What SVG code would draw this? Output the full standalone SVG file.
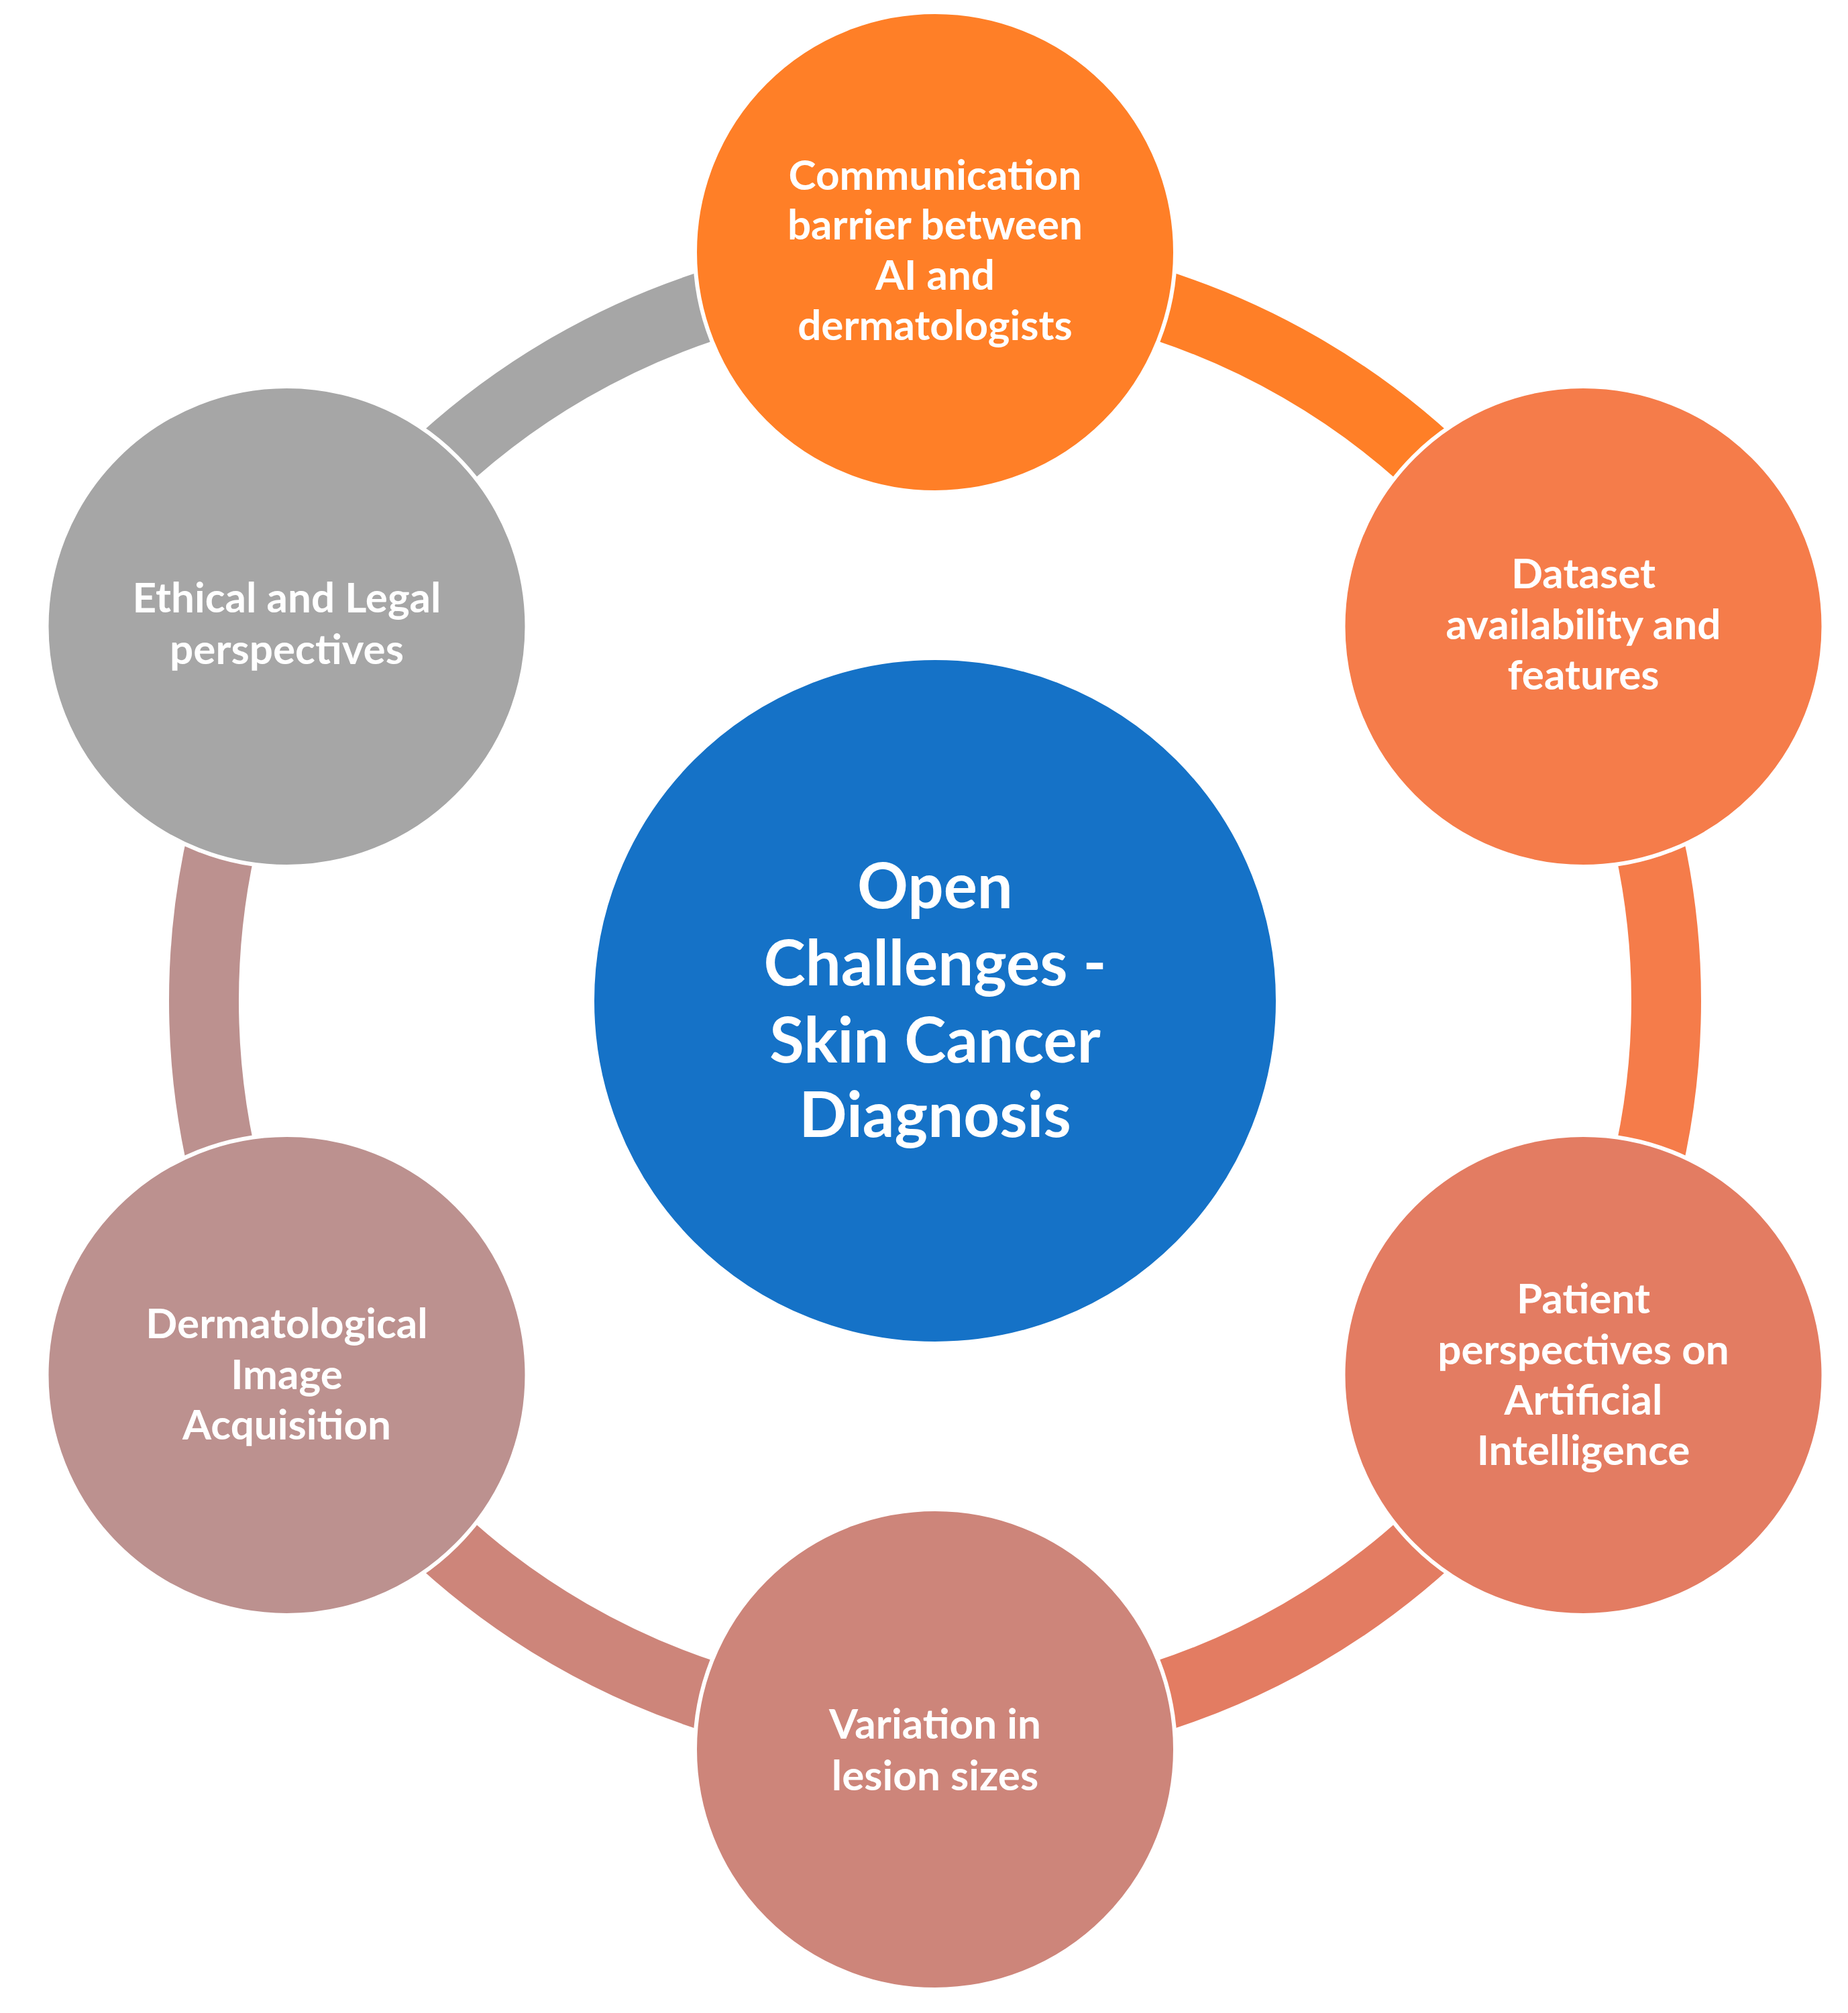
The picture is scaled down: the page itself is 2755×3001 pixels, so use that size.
<svg xmlns="http://www.w3.org/2000/svg" width="2755" height="3001" viewBox="0 0 2755 3001">
<style>
.arc{fill:none;stroke-width:104;stroke-linecap:butt}
.node{stroke:#FFFFFF;stroke-width:6}
.lbl{font-family:Lato,"Open Sans","Liberation Sans",sans-serif;font-weight:bold;fill:#FFFFFF;text-anchor:middle;font-size:62px}
.big{font-size:94px}
</style>
<rect width="2755" height="3001" fill="#FFFFFF"/>
<g id="connectors">
<path class="arc" stroke="#FF7F27" d="M1394,402 A1090,1090 0 0 1 2337.97,947"/>
<path class="arc" stroke="#F57C4A" d="M2337.97,947 A1090,1090 0 0 1 2337.97,2037"/>
<path class="arc" stroke="#E37C62" d="M2337.97,2037 A1090,1090 0 0 1 1394,2582"/>
<path class="arc" stroke="#CD857A" d="M1394,2582 A1090,1090 0 0 1 450.03,2037"/>
<path class="arc" stroke="#BC918F" d="M450.03,2037 A1090,1090 0 0 1 450.03,947"/>
<path class="arc" stroke="#A6A6A6" d="M450.03,947 A1090,1090 0 0 1 1394,402"/>
</g>
<g id="center">
<circle class="node" cx="1394" cy="1492" r="511" fill="#1572C7"/>
<text class="lbl big" x="1394" y="1354">Open</text>
<text class="lbl big" x="1394" y="1469">Challenges -</text>
<text class="lbl big" x="1394" y="1584">Skin Cancer</text>
<text class="lbl big" x="1394" y="1695">Diagnosis</text>
</g>
<g id="node-communication">
<circle class="node" cx="1394" cy="376" r="358" fill="#FF7F27"/>
<text class="lbl" x="1394" y="283">Communication</text>
<text class="lbl" x="1394" y="357">barrier between</text>
<text class="lbl" x="1394" y="432">AI and</text>
<text class="lbl" x="1394" y="507">dermatologists</text>
</g>
<g id="node-dataset">
<circle class="node" cx="2360.5" cy="934" r="358" fill="#F57C4A"/>
<text class="lbl" x="2360.5" y="877">Dataset</text>
<text class="lbl" x="2360.5" y="953">availability and</text>
<text class="lbl" x="2360.5" y="1028">features</text>
</g>
<g id="node-patient">
<circle class="node" cx="2360.5" cy="2050" r="358" fill="#E37C62"/>
<text class="lbl" x="2360.5" y="1958">Patient</text>
<text class="lbl" x="2360.5" y="2034">perspectives on</text>
<text class="lbl" x="2360.5" y="2109">Artificial</text>
<text class="lbl" x="2360.5" y="2184">Intelligence</text>
</g>
<g id="node-variation">
<circle class="node" cx="1394" cy="2608" r="358" fill="#CD857A"/>
<text class="lbl" x="1394" y="2592">Variation in</text>
<text class="lbl" x="1394" y="2669">lesion sizes</text>
</g>
<g id="node-acquisition">
<circle class="node" cx="427.5" cy="2050" r="358" fill="#BC918F"/>
<text class="lbl" x="427.5" y="1995">Dermatological</text>
<text class="lbl" x="427.5" y="2071">Image</text>
<text class="lbl" x="427.5" y="2146">Acquisition</text>
</g>
<g id="node-ethical">
<circle class="node" cx="427.5" cy="934" r="358" fill="#A6A6A6"/>
<text class="lbl" x="427.5" y="913">Ethical and Legal</text>
<text class="lbl" x="427.5" y="990">perspectives</text>
</g>
</svg>
